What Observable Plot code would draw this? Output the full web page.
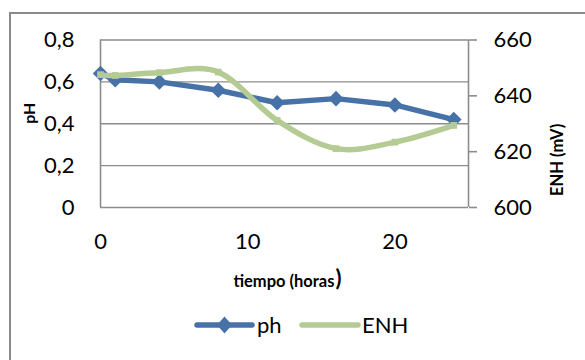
<!DOCTYPE html>
<html>
<head>
<meta charset="utf-8">
<script src="https://cdn.jsdelivr.net/npm/d3@7"></script>
<script src="https://cdn.jsdelivr.net/npm/@observablehq/plot@0.6"></script>
<style>
  html, body { margin: 0; padding: 0; background: #fff; overflow: hidden; }
  #wrap { position: relative; width: 585px; height: 360px; font-family: Lato, "Open Sans", sans-serif; }
  #border { position: absolute; left: 9px; top: 12px; width: 700px; height: 500px;
            border-left: 2px solid #8a8a8a; border-top: 2px solid #8a8a8a; box-sizing: border-box; }
  #chart { position: absolute; left: 0; top: 0; }
  #legend { position: absolute; left: 0; top: 305px; }
</style>
</head>
<body>
<div id="wrap">
  <div id="border"></div>
  <div id="chart"></div>
  <div id="legend"></div>
</div>
<script>
// Measurements over time
const tiempo = [0, 1, 4, 8, 12, 16, 20, 24];
const ph = [0.64, 0.61, 0.60, 0.56, 0.50, 0.52, 0.49, 0.42];
const enh = [647.6, 647.3, 648.3, 648.5, 631.2, 621.1, 623.4, 629.4];

// Axis ticks
const xTicks = [0, 10, 20];
const phTicks = [0, 0.2, 0.4, 0.6, 0.8];
const enhTicks = [600, 620, 640, 660];

const seriesNames = ["ph", "ENH"];
const colors = ["#4672a8", "#b4cc93"];

// The right axis (ENH, 600–660 mV) is drawn on the pH scale (0–0.8)
const phMax = 0.8, enhMin = 600, enhMax = 660;
const toPh = v => (v - enhMin) / (enhMax - enhMin) * phMax;
const toEnh = p => enhMin + p / phMax * (enhMax - enhMin);
const comma = d => String(d).replace(".", ",");

const rows = tiempo.map((t, i) => ({t, ph: ph[i], enh: toPh(enh[i])}));
const axisColor = "#8c8c8c";

const chart = Plot.plot({
  width: 585,
  height: 305,
  marginLeft: 100,
  marginRight: 117,
  marginTop: 39.5,
  marginBottom: 98,
  style: {fontFamily: "Lato, 'Open Sans', sans-serif", fontSize: "22px", color: "#000", background: "transparent"},
  x: {domain: [0, 25], label: null},
  y: {domain: [0, phMax], label: null},
  marks: [
    Plot.gridY(phTicks.slice(1), {stroke: axisColor, strokeOpacity: 1, strokeWidth: 1.4}),
    Plot.ruleX([0, 25], {stroke: axisColor, strokeWidth: 1.6}),
    Plot.ruleY([0], {stroke: axisColor, strokeWidth: 1.6}),
    Plot.axisX(xTicks, {tickSize: 0, tickPadding: 26, label: null, tickFormat: d => d}),
    Plot.axisY(phTicks, {anchor: "left", tickSize: 0, tickPadding: 26, label: null, tickFormat: comma}),
    Plot.axisY(enhTicks.map(toPh), {anchor: "right", tickSize: 8, tickPadding: 17, stroke: axisColor, strokeWidth: 1.6,
      label: null, tickFormat: d => Math.round(toEnh(d))}),
    // Axis titles
    Plot.text(["pH"], {frameAnchor: "left", dx: -70.5, rotate: -90, fontWeight: "bold", fontSize: 16}),
    Plot.text(["ENH (mV)"], {frameAnchor: "right", dx: 89, rotate: -90, fontWeight: "bold", fontSize: 16.5}),
    Plot.text(["tiempo (horas"], {frameAnchor: "bottom", dx: 50, dy: 79, textAnchor: "end", fontWeight: "bold", fontSize: 16.5}),
    Plot.text([")"], {frameAnchor: "bottom", dx: 51, dy: 78, textAnchor: "start", fontWeight: "bold", fontSize: 22}),
    // pH series
    Plot.line(rows, {x: "t", y: "ph", stroke: colors[0], strokeWidth: 5.5}),
    Plot.dot(rows, {x: "t", y: "ph", symbol: "diamond2", r: 7, fill: colors[0], stroke: "none"}),
    // ENH series (smoothed)
    Plot.line(rows, {x: "t", y: "enh", stroke: colors[1], strokeWidth: 5.5, curve: "cardinal", tension: 0}),
    Plot.dot(rows, {x: "t", y: "enh", symbol: "square", r: 3.8, fill: colors[1], stroke: "none"})
  ]
});
document.getElementById("chart").appendChild(chart);

// Legend below the chart
const lg = d3.select("#legend").append("svg").attr("width", 585).attr("height", 55)
  .style("font-family", "Lato, 'Open Sans', sans-serif").style("font-size", "22px");
const items = [
  {name: seriesNames[0], color: colors[0], x0: 197, x1: 252, tx: 257, marker: true},
  {name: seriesNames[1], color: colors[1], x0: 302, x1: 358, tx: 362, marker: false}
];
items.forEach(it => {
  lg.append("line").attr("x1", it.x0).attr("x2", it.x1).attr("y1", 20).attr("y2", 20)
    .attr("stroke", it.color).attr("stroke-width", 5.5).attr("stroke-linecap", "round");
  if (it.marker) {
    const cx = (it.x0 + it.x1) / 2;
    lg.append("path").attr("d", `M${cx},11.5 L${cx + 7.5},20 L${cx},28.5 L${cx - 7.5},20 Z`).attr("fill", it.color);
  }
  lg.append("text").attr("x", it.tx).attr("y", 27.5).attr("fill", "#000").text(it.name);
});
</script>
</body>
</html>
